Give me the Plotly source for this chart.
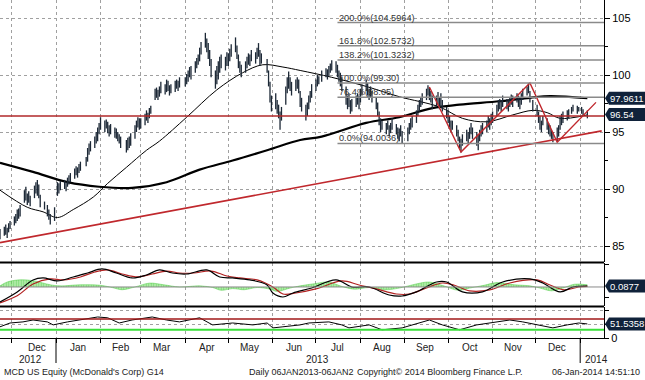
import pandas as pd
import plotly.graph_objects as go
from plotly.subplots import make_subplots

FONT = "Liberation Sans, Arial, sans-serif"

# ---------------- data ----------------
holidays = ["2012-12-25", "2013-01-01", "2013-01-21", "2013-02-18", "2013-03-29", "2013-05-27",
            "2013-07-04", "2013-09-02", "2013-11-28", "2013-12-25", "2014-01-01"]

nov12_lo = [85.6, 85.9, 86.0, 85.7, 86.2, 86.5]
nov12_hi = [86.5, 86.7, 86.9, 86.6, 87.0, 87.2]
dec12_lo = [86.8, 87.0, 87.2, 87.4, 87.6, 88.8, 89.0, 88.6, 88.8, 88.5, 89.2, 89.6, 89.4, 89.2, 88.4, 88.2, 87.6, 87.3, 86.9, 87.2]
dec12_hi = [87.6, 87.8, 88.2, 88.3, 88.6, 89.9, 90.2, 89.6, 89.8, 89.4, 90.3, 90.6, 90.8, 90.4, 89.5, 88.9, 88.6, 88.2, 87.8, 88.4]
jan13_lo = [89.4, 89.6, 89.9, 90.0, 89.8, 90.2, 90.4, 90.6, 90.9, 91.2, 91.0, 91.4, 91.6, 92.0, 92.4, 93.0, 93.3, 93.6, 94.0, 94.2, 94.8]
jan13_hi = [90.6, 90.5, 90.7, 90.8, 90.6, 91.0, 91.2, 91.4, 91.8, 92.0, 91.9, 92.2, 92.4, 92.8, 93.6, 94.0, 94.2, 94.6, 95.0, 95.4, 95.8]
feb13_lo = [95.2, 95.0, 95.3, 94.9, 94.6, 94.8, 94.5, 94.4, 94.2, 94.0, 93.6, 93.2, 93.4, 93.6, 93.8, 94.4, 95.0, 95.4, 95.2]
feb13_hi = [96.3, 96.0, 96.1, 95.9, 95.6, 95.7, 95.4, 95.3, 95.0, 94.8, 94.6, 94.3, 94.5, 94.6, 94.9, 95.6, 96.0, 96.3, 96.2]
mar13_lo = [95.3, 95.6, 96.0, 95.8, 96.2, 96.6, 97.8, 98.0, 97.8, 98.1, 98.4, 98.3, 98.5, 98.6, 98.2, 98.4, 98.5, 98.8, 98.6, 98.9]
mar13_hi = [96.2, 96.6, 96.9, 96.7, 97.1, 97.3, 98.8, 98.9, 98.7, 99.0, 99.4, 99.2, 99.6, 99.5, 99.1, 99.2, 99.5, 99.6, 99.5, 99.8]
apr13_lo = [99.0, 99.2, 99.4, 99.8, 99.6, 100.2, 100.6, 100.9, 101.2, 101.8, 102.4, 102.0, 101.4, 100.8, 99.8, 98.8, 99.2, 99.6, 100.2, 100.6, 100.4, 100.8]
apr13_hi = [99.8, 100.1, 100.4, 100.7, 100.8, 101.2, 101.5, 101.8, 102.4, 102.9, 103.7, 103.2, 102.8, 102.2, 101.4, 100.4, 100.8, 101.2, 101.6, 101.8, 101.6, 102.0]
may13_lo = [100.8, 101.2, 101.6, 102.0, 101.4, 100.6, 100.2, 99.8, 100.2, 100.6, 100.9, 100.8, 101.2, 101.0, 101.4, 101.6, 100.8, 101.0, 100.2, 99.0, 97.6, 96.8]
may13_hi = [101.9, 102.3, 102.7, 103.3, 102.6, 101.8, 101.2, 100.9, 101.2, 101.6, 101.9, 101.8, 102.2, 102.0, 102.4, 102.8, 102.2, 101.9, 101.4, 100.4, 99.4, 98.2]
jun13_lo = [97.0, 96.6, 96.2, 95.2, 96.0, 97.4, 98.4, 98.8, 98.6, 98.2, 98.6, 98.8, 98.4, 97.2, 96.8, 96.0, 96.4, 97.0, 97.6, 98.0]
jun13_hi = [98.4, 97.8, 97.4, 96.8, 97.2, 99.0, 99.8, 100.3, 99.8, 99.4, 99.6, 99.8, 99.6, 98.6, 98.0, 97.4, 97.6, 98.2, 98.6, 99.2]
jul13_lo = [98.6, 99.0, 99.2, 99.4, 99.8, 99.6, 99.9, 100.2, 100.4, 100.2, 99.8, 99.4, 99.0, 98.6, 97.4, 97.0, 97.2, 96.6, 96.8, 97.2, 97.4, 97.0]
jul13_hi = [99.6, 100.0, 99.9, 100.4, 100.6, 100.5, 100.8, 101.0, 101.3, 101.2, 100.9, 100.4, 100.2, 99.8, 99.0, 98.2, 98.4, 97.8, 97.9, 98.2, 98.4, 98.2]
aug13_lo = [97.6, 98.2, 98.6, 98.2, 97.8, 98.0, 97.6, 97.0, 96.4, 95.6, 95.0, 95.2, 94.8, 95.2, 94.6, 94.9, 95.2, 94.8, 94.4, 94.2, 94.6, 94.0]
aug13_hi = [98.8, 99.2, 99.6, 99.3, 98.8, 99.0, 98.6, 98.0, 97.6, 96.8, 96.2, 96.0, 95.8, 96.0, 95.6, 95.8, 96.2, 95.7, 95.4, 95.3, 95.6, 95.1]
sep13_lo = [94.2, 94.8, 95.2, 95.4, 95.8, 96.4, 96.8, 97.2, 97.4, 97.8, 98.2, 97.8, 97.6, 97.0, 97.2, 97.4, 97.0, 97.2, 96.8, 96.2]
sep13_hi = [95.4, 95.8, 96.2, 96.4, 96.9, 97.4, 97.8, 98.0, 98.4, 98.8, 99.1, 98.9, 98.6, 98.2, 98.2, 98.5, 98.0, 98.4, 97.8, 97.2]
oct13_lo = [95.8, 95.4, 95.0, 95.2, 94.6, 94.2, 93.6, 93.2, 93.8, 94.2, 94.0, 94.4, 94.8, 94.4, 93.8, 93.4, 94.2, 94.6, 94.8, 95.0, 95.4, 95.2, 95.6]
oct13_hi = [96.9, 96.4, 96.0, 96.0, 95.6, 95.2, 94.6, 94.4, 94.8, 95.2, 95.0, 95.4, 95.8, 95.4, 95.0, 94.8, 95.2, 95.6, 95.8, 96.0, 96.4, 96.2, 96.6]
nov13_lo = [95.8, 96.4, 96.8, 97.0, 96.8, 97.2, 97.0, 96.8, 97.2, 97.4, 97.2, 97.6, 97.2, 97.0, 97.4, 97.8, 98.2, 98.4, 97.6, 96.8]
nov13_hi = [96.8, 97.4, 97.8, 97.9, 97.8, 98.2, 97.9, 97.8, 98.0, 98.3, 98.2, 98.4, 98.2, 98.0, 98.4, 98.8, 99.0, 99.3, 98.6, 97.8]
dec13_lo = [96.4, 95.8, 95.2, 95.0, 95.6, 95.2, 94.8, 94.6, 94.4, 94.1, 94.2, 94.6, 95.2, 95.6, 95.8, 96.0, 96.2, 96.6, 96.8, 96.6, 96.8]
dec13_hi = [97.4, 96.8, 96.4, 96.0, 96.4, 96.2, 95.8, 95.6, 95.2, 95.0, 95.4, 95.6, 96.4, 96.6, 96.8, 96.9, 97.0, 97.2, 97.4, 97.3, 97.2]
jan14_lo = [96.6, 96.4, 96.2]
jan14_hi = [97.2, 97.0, 96.9]
last_price = 96.54

ma50_dates = ["2012-11-23", "2012-12-12", "2012-12-23", "2013-01-02", "2013-01-13", "2013-01-27", "2013-02-06",
              "2013-02-19", "2013-03-05", "2013-03-14", "2013-04-02", "2013-04-23", "2013-05-11", "2013-05-25",
              "2013-06-08", "2013-06-20", "2013-07-12", "2013-08-05", "2013-08-28", "2013-09-25", "2013-10-11",
              "2013-10-28", "2013-11-15", "2013-11-29", "2013-12-09", "2013-12-18", "2014-01-06"]
ma50_vals = [89.9, 88.4, 88.0, 87.5, 88.2, 89.3, 90.5, 91.9, 93.4, 94.2, 96.3, 98.7, 100.2, 100.9,
             100.7, 100.4, 99.8, 99.0, 98.1, 97.2, 96.2, 95.9, 96.5, 96.9, 96.7, 96.2, 96.5]

ma200_dates = ["2012-11-23", "2012-12-16", "2013-01-09", "2013-01-31", "2013-02-23", "2013-03-19", "2013-04-11",
               "2013-05-04", "2013-05-28", "2013-06-20", "2013-07-05", "2013-08-05", "2013-08-28", "2013-09-20",
               "2013-10-09", "2013-11-06", "2013-11-27", "2013-12-11", "2014-01-06"]
ma200_vals = [92.3, 91.5, 90.6, 90.2, 90.1, 90.6, 91.7, 92.5, 93.4, 94.3, 94.6, 95.8, 96.3, 97.1,
              97.4, 97.7, 98.0, 98.15, 97.9611]

hline_val = 96.4
trend_dates = ["2012-11-23", "2014-01-16"]
trend_vals = [85.3, 95.1]
zz_dates = ["2013-09-18", "2013-10-10", "2013-11-27", "2013-12-16", "2014-01-12"]
zz_vals = [98.95, 93.25, 99.3, 94.1, 97.6]

fib_start = "2013-07-16"
fib_names = ["0.0%", "76.4%", "100.0%", "138.2%", "161.8%", "200.0%"]
fib_texts = ["94.0036", "98.05", "99.30", "101.3232", "102.5732", "104.5964"]
fib_levels = [94.0036, 98.05, 99.30, 101.3232, 102.5732, 104.5964]

macd_dates = ["2012-11-23", "2012-12-05", "2012-12-16", "2012-12-23", "2013-01-02", "2013-01-13", "2013-01-23",
              "2013-02-02", "2013-02-12", "2013-02-23", "2013-03-05", "2013-03-14", "2013-03-23", "2013-04-02",
              "2013-04-16", "2013-04-25", "2013-05-04", "2013-05-16", "2013-05-28", "2013-06-01", "2013-06-08",
              "2013-06-15", "2013-06-28", "2013-07-15", "2013-07-26", "2013-08-07", "2013-08-21", "2013-08-30",
              "2013-09-09", "2013-09-23", "2013-09-30", "2013-10-11", "2013-10-25", "2013-11-08", "2013-11-27",
              "2013-12-06", "2013-12-18", "2013-12-27", "2014-01-06"]
macd_vals = [-1.36, -0.45, 0.64, 0.82, 0.55, 0.91, 1.27, 1.64, 1.27, 0.82, 1.09, 1.55, 1.27, 1.18,
             1.55, 0.91, 0.82, 0.64, 0.18, -0.55, -0.91, -0.55, -0.09, 0.64, 0.0, 0.0, -0.73, -0.82,
             -0.45, 0.45, 0.45, -0.45, -0.45, 0.45, 0.73, 0.36, -0.45, 0.0, 0.0877]

sig_dates = ["2012-11-23", "2012-12-05", "2012-12-16", "2012-12-28", "2013-01-06", "2013-01-18", "2013-01-28",
             "2013-02-06", "2013-02-16", "2013-02-27", "2013-03-09", "2013-03-19", "2013-03-28", "2013-04-07",
             "2013-04-19", "2013-04-30", "2013-05-09", "2013-05-21", "2013-06-01", "2013-06-08", "2013-06-17",
             "2013-07-01", "2013-07-19", "2013-07-31", "2013-08-12", "2013-08-26", "2013-09-04", "2013-09-16",
             "2013-09-27", "2013-10-05", "2013-10-16", "2013-10-30", "2013-11-13", "2013-12-02", "2013-12-11",
             "2013-12-21", "2013-12-31", "2014-01-06"]
sig_vals = [-1.45, -0.8, 0.27, 0.73, 0.64, 0.91, 1.36, 1.55, 1.18, 0.91, 1.18, 1.45, 1.27, 1.27,
            1.45, 1.0, 0.82, 0.64, 0.0, -0.64, -0.55, -0.18, 0.55, 0.18, -0.18, -0.64, -0.64, -0.09,
            0.36, 0.18, -0.36, -0.27, 0.36, 0.64, 0.18, -0.27, 0.0, 0.05]

hist_dates = ["2012-11-23", "2012-11-28", "2012-12-07", "2012-12-17", "2012-12-28", "2013-01-04", "2013-01-18",
              "2013-02-01", "2013-02-09", "2013-02-16", "2013-02-25", "2013-03-07", "2013-03-17", "2013-03-28",
              "2013-04-11", "2013-04-20", "2013-04-26", "2013-05-04", "2013-05-12", "2013-05-21", "2013-05-30",
              "2013-06-04", "2013-06-13", "2013-06-20", "2013-06-30", "2013-07-10", "2013-07-19", "2013-07-28",
              "2013-08-07", "2013-08-18", "2013-08-28", "2013-09-08", "2013-09-18", "2013-09-28", "2013-10-08",
              "2013-10-16", "2013-10-26", "2013-11-04", "2013-11-16", "2013-11-27", "2013-12-04", "2013-12-12",
              "2013-12-20", "2013-12-28", "2014-01-06"]
hist_vals = [0.1, 0.45, 0.65, 0.55, 0.2, 0.1, 0.2, 0.15, -0.05, -0.25, 0.0, 0.35, 0.2, 0.0,
             0.1, -0.05, -0.3, -0.15, -0.25, -0.05, -0.2, -0.4, -0.1, 0.1, 0.3, 0.45, 0.05, -0.2,
             -0.05, -0.25, -0.1, 0.25, 0.45, 0.1, -0.3, -0.1, 0.15, 0.4, 0.2, 0.1, -0.1, -0.35,
             -0.1, 0.25, 0.2]

rsi_dates = ["2012-11-23", "2012-11-30", "2012-12-09", "2012-12-16", "2012-12-26", "2012-12-30", "2013-01-09",
             "2013-01-18", "2013-01-30", "2013-02-06", "2013-02-14", "2013-02-23", "2013-03-09", "2013-03-19",
             "2013-03-28", "2013-04-11", "2013-04-20", "2013-05-04", "2013-05-18", "2013-05-28", "2013-06-01",
             "2013-06-08", "2013-06-20", "2013-06-26", "2013-07-10", "2013-07-19", "2013-07-24", "2013-08-07",
             "2013-08-16", "2013-08-30", "2013-09-13", "2013-09-18", "2013-09-27", "2013-10-09", "2013-10-21",
             "2013-11-04", "2013-11-13", "2013-11-22", "2013-12-02", "2013-12-13", "2013-12-23", "2013-12-31",
             "2014-01-06"]
rsi_vals = [41, 55, 59, 66, 59, 48, 59, 66, 77, 74, 55, 66, 77, 66, 59, 74, 48, 55, 48, 55, 37,
            41, 48, 55, 59, 48, 37, 48, 30, 37, 59, 66, 48, 30, 48, 59, 66, 59, 48, 37, 48, 55, 51.5358]
rsi_levels = [70, 30]

price_ticks = [85, 90, 95, 100, 105]
month_names = ["Dec", "Jan", "Feb", "Mar", "Apr", "May", "Jun", "Jul", "Aug", "Sep", "Oct", "Nov", "Dec"]
month_label_dates = ["2012-12-19", "2013-01-16", "2013-02-15", "2013-03-16", "2013-04-16", "2013-05-16",
                     "2013-06-16", "2013-07-16", "2013-08-16", "2013-09-15", "2013-10-16", "2013-11-15", "2013-12-16"]
month_starts = ["2012-12-01", "2013-01-01", "2013-02-01", "2013-03-01", "2013-04-01", "2013-05-01", "2013-06-01",
                "2013-07-01", "2013-08-01", "2013-09-01", "2013-10-01", "2013-11-01", "2013-12-01", "2014-01-01"]
x_range = ["2012-11-23", "2014-01-17 14:00"]

# ---------------- assemble ----------------
lows = (nov12_lo + dec12_lo + jan13_lo + feb13_lo + mar13_lo + apr13_lo + may13_lo + jun13_lo +
        jul13_lo + aug13_lo + sep13_lo + oct13_lo + nov13_lo + dec13_lo + jan14_lo)
highs = (nov12_hi + dec12_hi + jan13_hi + feb13_hi + mar13_hi + apr13_hi + may13_hi + jun13_hi +
         jul13_hi + aug13_hi + sep13_hi + oct13_hi + nov13_hi + dec13_hi + jan14_hi)
days = [d for d in pd.bdate_range("2012-11-23", "2014-01-06") if d.strftime("%Y-%m-%d") not in holidays]
n = min(len(days), len(lows), len(highs))

bx, by = [], []
for d, lo, hi in zip(days[:n], lows[:n], highs[:n]):
    bx += [d, d, None]
    by += [lo, hi, None]

W, H = 645, 380
MR, MB = 41, 42
PW = W - MR
PH = H - MB


def py(px):
    return (PH - px) / PH


fig = make_subplots(rows=3, cols=1, shared_xaxes=True, vertical_spacing=0)

# main panel
fig.add_trace(go.Scatter(x=ma200_dates, y=ma200_vals, mode="lines", line=dict(color="black", width=2.2, shape="spline"),
                         hoverinfo="skip"), row=1, col=1)
fig.add_trace(go.Scatter(x=ma50_dates, y=ma50_vals, mode="lines", line=dict(color="black", width=1, shape="spline"),
                         hoverinfo="skip"), row=1, col=1)
fig.add_trace(go.Scatter(x=bx, y=by, mode="lines", line=dict(color="#1c2836", width=1.3), connectgaps=False,
                         hoverinfo="skip"), row=1, col=1)
fig.add_trace(go.Scatter(x=trend_dates, y=trend_vals, mode="lines", line=dict(color="#c0282d", width=1.6),
                         hoverinfo="skip"), row=1, col=1)
fig.add_trace(go.Scatter(x=zz_dates, y=zz_vals, mode="lines", line=dict(color="#c0282d", width=1.4),
                         hoverinfo="skip"), row=1, col=1)

# MACD panel
fig.add_trace(go.Scatter(x=hist_dates, y=hist_vals, mode="lines", fill="tozeroy",
                         line=dict(color="rgba(70,200,60,0.8)", width=0.6, shape="spline"),
                         fillcolor="rgba(150,230,130,0.5)",
                         fillpattern=dict(shape="|", fgcolor="#33c433", bgcolor="rgba(170,235,150,0.6)",
                                          size=2.5, solidity=0.6),
                         hoverinfo="skip"), row=2, col=1)
fig.add_trace(go.Scatter(x=sig_dates, y=sig_vals, mode="lines", line=dict(color="#b22222", width=1.2, shape="spline"),
                         hoverinfo="skip"), row=2, col=1)
fig.add_trace(go.Scatter(x=macd_dates, y=macd_vals, mode="lines", line=dict(color="black", width=1.2, shape="spline"),
                         hoverinfo="skip"), row=2, col=1)

# RSI panel
fig.add_trace(go.Scatter(x=rsi_dates, y=rsi_vals, mode="lines", line=dict(color="black", width=1),
                         hoverinfo="skip"), row=3, col=1)

shapes = []
annotations = []

# horizontal red line
shapes.append(dict(type="line", xref="paper", yref="y", x0=0, x1=1, y0=hline_val, y1=hline_val,
                   line=dict(color="#b0282a", width=1.5)))
# fib lines + labels
for name, txt, lev in zip(fib_names, fib_texts, fib_levels):
    shapes.append(dict(type="line", xref="x", yref="y", x0=fib_start, x1=x_range[1], y0=lev, y1=lev,
                       line=dict(color="#8a8a8a", width=1.5)))
    annotations.append(dict(x=fib_start, y=lev, xref="x", yref="y", text=f"{name}({txt})", showarrow=False,
                            xanchor="left", yanchor="bottom", xshift=0, yshift=-2,
                            font=dict(family=FONT, size=9.2, color="#333")))
# MACD zero line
shapes.append(dict(type="line", xref="paper", yref="y2", x0=0, x1=1, y0=0, y1=0, line=dict(color="#8a8a8a", width=1)))
# RSI levels
shapes.append(dict(type="line", xref="paper", yref="y3", x0=0, x1=1, y0=rsi_levels[0], y1=rsi_levels[0],
                   line=dict(color="#a01818", width=1.5)))
shapes.append(dict(type="line", xref="paper", yref="y3", x0=0, x1=1, y0=rsi_levels[1], y1=rsi_levels[1],
                   line=dict(color="#39e039", width=2)))
# panel separators
for sy in (262.5, 306.5):
    shapes.append(dict(type="line", xref="paper", yref="paper", x0=0, x1=1, y0=py(sy), y1=py(sy),
                       line=dict(color="black", width=2.2)))
# year separators
for ys in ("2013-01-01", "2014-01-01"):
    shapes.append(dict(type="line", xref="x3", yref="paper", x0=ys, x1=ys, y0=0, y1=py(363),
                       line=dict(color="black", width=1)))


def value_box(val, label, yref, half):
    x0 = 1 + 1 / PW
    x1 = 1 + 5 / PW
    x2 = W / PW
    shapes.append(dict(type="path", xref="paper", yref=yref,
                       path=f"M {x0} {val} L {x1} {val + half} L {x2} {val + half} L {x2} {val - half} L {x1} {val - half} Z",
                       fillcolor="#10223a", line=dict(width=0)))
    annotations.append(dict(x=1 + 4 / PW, y=val, xref="paper", yref=yref, text=label, showarrow=False,
                            xanchor="left", yanchor="middle", xshift=0,
                            font=dict(family=FONT, size=9.5, color="white")))


value_box(ma200_vals[-1], f"{ma200_vals[-1]:.4f}", "y", 6.5 / 11.4)
value_box(last_price, f"{last_price:.2f}", "y", 6.5 / 11.4)
value_box(macd_vals[-1], f"{macd_vals[-1]:.4f}", "y2", 6.5 / 11.0)
value_box(rsi_vals[-1], f"{rsi_vals[-1]:.4f}", "y3", 6.5 / 0.273)

# month / year labels
for nm, d in zip(month_names, month_label_dates):
    annotations.append(dict(x=d, y=py(347), xref="x3", yref="paper", text=nm, showarrow=False,
                            xanchor="center", yanchor="middle", font=dict(family=FONT, size=10, color="#222")))
annotations.append(dict(x="2012-12-14", y=py(359), xref="x3", yref="paper", text="2012", showarrow=False,
                        xanchor="center", yanchor="middle", font=dict(family=FONT, size=10, color="#222")))
annotations.append(dict(x="2013-07-02", y=py(359), xref="x3", yref="paper", text="2013", showarrow=False,
                        xanchor="center", yanchor="middle", font=dict(family=FONT, size=10, color="#222")))
annotations.append(dict(x="2014-01-01", y=py(359), xref="x3", yref="paper", text="2014", showarrow=False,
                        xanchor="left", yanchor="middle", xshift=3, font=dict(family=FONT, size=10, color="#222")))

# footer
footer = [("MCD US Equity (McDonald's Corp) G14", 2),
          ("Daily 06JAN2013-06JAN2", 247),
          ("Copyright© 2014 Bloomberg Finance L.P.", 355),
          ("06-Jan-2014 14:51:10", 550)]
for txt, xp in footer:
    annotations.append(dict(x=xp / PW, y=py(372), xref="paper", yref="paper", text=txt, showarrow=False,
                            xanchor="left", yanchor="middle", font=dict(family=FONT, size=9, color="#222")))

axis_common = dict(range=x_range, tickvals=month_starts, showgrid=True, griddash="dot", gridcolor="#a0a0a0",
                   gridwidth=1, showticklabels=False, zeroline=False)
fig.update_xaxes(**axis_common)
fig.update_xaxes(ticks="", row=1, col=1)
fig.update_xaxes(ticks="", row=2, col=1)
fig.update_xaxes(ticks="outside", ticklen=4, tickcolor="black", showline=True, linecolor="black", linewidth=1,
                 row=3, col=1)

fig.update_layout(
    width=W, height=H, margin=dict(l=0, r=MR, t=0, b=MB),
    paper_bgcolor="white", plot_bgcolor="white", showlegend=False,
    font=dict(family=FONT, size=10, color="black"),
    shapes=shapes, annotations=annotations,
    yaxis=dict(domain=[py(262), 1.0], range=[83.6, 106.58], side="right", tickvals=price_ticks,
               showgrid=True, griddash="dot", gridcolor="#a0a0a0", zeroline=False,
               showline=True, linecolor="black", linewidth=1, ticks="outside", ticklen=5, tickcolor="black",
               tickfont=dict(family=FONT, size=11, color="black"),
               minor=dict(dtick=2.5, ticks="outside", ticklen=3, tickcolor="black", showgrid=False)),
    yaxis2=dict(domain=[py(306), py(263)], range=[-1.73, 2.18], side="right", tickvals=[-1, 2], ticktext=["", ""],
                showgrid=False, zeroline=False, showline=True, linecolor="black", linewidth=1,
                ticks="outside", ticklen=4, tickcolor="black"),
    yaxis3=dict(domain=[0, py(307)], range=[0, 113.6], side="right", tickvals=[0, 50, 100], ticktext=["0", "", ""],
                showgrid=True, griddash="dot", gridcolor="#a0a0a0", zeroline=False,
                showline=True, linecolor="black", linewidth=1, ticks="outside", ticklen=4, tickcolor="black",
                tickfont=dict(family=FONT, size=11, color="black")),
)

fig.write_html("out.html", config={"displayModeBar": False},
               post_script="document.body.style.margin='0px';document.body.style.padding='0px';")
